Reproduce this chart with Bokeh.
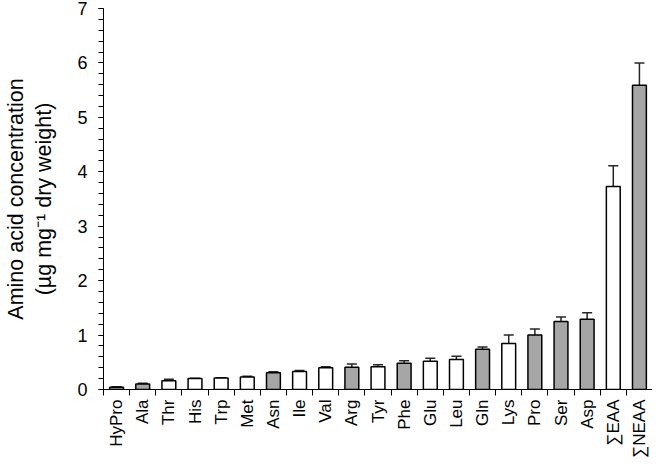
import numpy as np
from bokeh.plotting import figure
from bokeh.models import (ColumnDataSource, Range1d, FixedTicker, SingleIntervalTicker,
                          Whisker, TeeHead)
from bokeh.embed import file_html
from bokeh.resources import INLINE

amino_acids = ["HyPro", "Ala", "Thr", "His", "Trp", "Met", "Asn", "Ile", "Val", "Arg",
               "Tyr", "Phe", "Glu", "Leu", "Gln", "Lys", "Pro", "Ser", "Asp",
               "\u2211EAA", "\u2211NEAA"]
concentration = [0.04, 0.10, 0.16, 0.20, 0.21, 0.23, 0.31, 0.33, 0.40, 0.41,
                 0.42, 0.48, 0.52, 0.55, 0.74, 0.845, 1.00, 1.25, 1.29, 3.73, 5.59]
error = [0.01, 0.015, 0.03, 0.005, 0.005, 0.015, 0.015, 0.02, 0.02, 0.06,
         0.035, 0.05, 0.055, 0.06, 0.04, 0.155, 0.11, 0.08, 0.12, 0.38, 0.41]
group = ["NEAA", "NEAA", "EAA", "EAA", "EAA", "EAA", "NEAA", "EAA", "EAA", "NEAA",
         "EAA", "NEAA", "EAA", "EAA", "NEAA", "EAA", "NEAA", "NEAA", "NEAA", "EAA", "NEAA"]
y_ticks = [0, 1, 2, 3, 4, 5, 6, 7]

group_colors = {"EAA": "#ffffff", "NEAA": "#a6a6a6"}

n = len(amino_acids)
xpos = list(range(n))
conc = np.array(concentration)
err = np.array(error)
source = ColumnDataSource(dict(
    x=xpos, top=conc, upper=conc + err, lower=conc - err,
    color=[group_colors[g] for g in group],
))

FONT = "Liberation Sans"

p = figure(width=652, height=460, output_backend="svg", toolbar_location=None,
           x_range=Range1d(-0.5, n - 0.5), y_range=Range1d(0, 7),
           min_border_left=95, min_border_right=0, min_border_top=8, min_border_bottom=60)
p.outline_line_color = None
p.xgrid.grid_line_color = None
p.ygrid.grid_line_color = None

p.vbar(x="x", top="top", width=0.53, bottom=0, source=source,
       fill_color="color", line_color="black", line_width=1.5)

w = Whisker(source=source, base="x", upper="upper", lower="lower", dimension="height",
            line_color="#262626", line_width=1.5,
            upper_head=TeeHead(size=10, line_color="#262626", line_width=1.5),
            lower_head=TeeHead(size=10, line_color="#262626", line_width=1.5))
p.add_layout(w)

# x axis: labels at bar centres, tick marks at category boundaries
xa = p.xaxis[0]
xa.ticker = FixedTicker(ticks=xpos, minor_ticks=[i - 0.5 for i in range(n + 1)])
xa.major_label_overrides = {i: lab for i, lab in enumerate(amino_acids)}
xa.major_label_orientation = np.pi / 2
xa.major_tick_out = 0
xa.major_tick_in = 0
xa.minor_tick_out = 6
xa.minor_tick_in = 0
xa.minor_tick_line_color = "black"
xa.major_label_standoff = 4
xa.major_label_text_font = FONT
xa.major_label_text_font_size = "17px"
xa.major_label_text_color = "black"
xa.axis_line_color = "black"

ya = p.yaxis[0]
ya.ticker = SingleIntervalTicker(interval=1, num_minor_ticks=5)
ya.major_tick_out = 5
ya.major_tick_in = 0
ya.minor_tick_out = 5
ya.minor_tick_in = 0
ya.minor_tick_line_color = "black"
ya.major_tick_line_color = "black"
ya.axis_line_color = "black"
ya.major_label_standoff = 11
ya.major_label_text_font = FONT
ya.major_label_text_font_size = "18px"
ya.major_label_text_color = "black"
ya.axis_label = "Amino acid concentration\n(\u00b5g mg\u207b\u00b9 dry weight)"
ya.axis_label_text_font = FONT
ya.axis_label_text_font_size = "21.5px"
ya.axis_label_text_font_style = "normal"
ya.axis_label_text_color = "black"
ya.axis_label_standoff = 18

open("out.html", "w").write(file_html(p, INLINE))
